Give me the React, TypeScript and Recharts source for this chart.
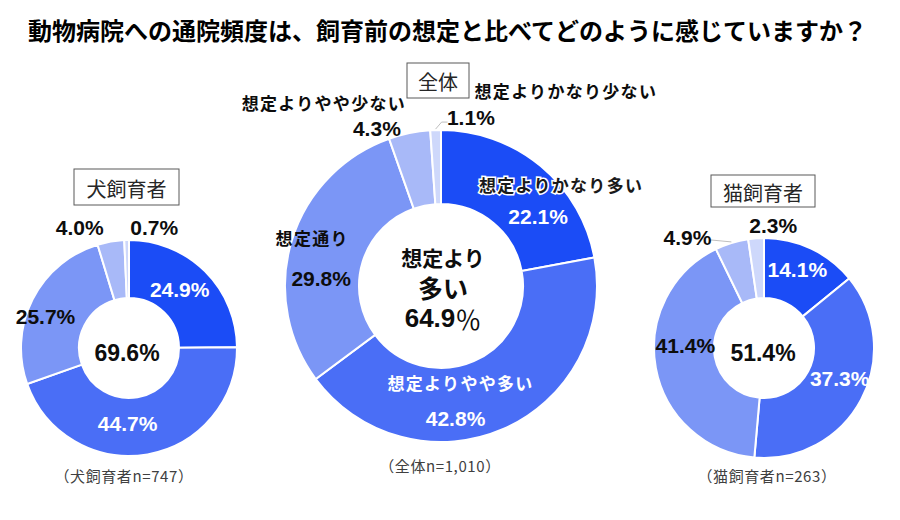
import { PieChart, Pie, Cell } from "recharts";

const categories = [
  "想定よりかなり多い",
  "想定よりやや多い",
  "想定通り",
  "想定よりやや少ない",
  "想定よりかなり少ない",
];
const dogValues = [24.9, 44.7, 25.7, 4.0, 0.7];
const allValues = [22.1, 42.8, 29.8, 4.3, 1.1];
const catValues = [14.1, 37.3, 41.4, 4.9, 2.3];
const centerValues = ["69.6", "64.9", "51.4"];
const groupNames = ["犬飼育者", "全体", "猫飼育者"];
const sampleNotes = ["（犬飼育者n=747）", "（全体n=1,010）", "（猫飼育者n=263）"];

const COLORS = ["#1b4cf6", "#4a6ef6", "#7b96f6", "#a8b9f8", "#ced8fb"];
const TITLE = "動物病院への通院頻度は、飼育前の想定と比べてどのように感じていますか？";

const NUM_FONT = "'Liberation Sans', Arial, sans-serif";
const JP_FONT = "'Noto Sans CJK JP', 'Noto Sans', sans-serif";
const DARK = "#0d0d0d";

const toData = (values: number[]) =>
  values.map((v, i) => ({ name: categories[i], value: v }));

type Layout = {
  nudges: number[][];
  valueColors: string[];
  catNudges?: (number[] | null)[];
  catColors?: string[];
  leaders?: Record<number, number[][]>;
};

const dogLayout: Layout = {
  nudges: [[-5, -2], [-15, -2], [-13, 4], [-36, -43], [27, -42]],
  valueColors: ["#fff", "#fff", DARK, DARK, DARK],
};
const allLayout: Layout = {
  nudges: [[21, 22], [-33, 23], [-6, 27], [-40, -41], [34, -50]],
  valueColors: ["#fff", "#fff", DARK, DARK, DARK],
  catNudges: [[44, -10], [-28, -13], [-15, -14], [-93, -67], [129, -77]],
  catColors: ["halo", "#fff", DARK, DARK, DARK],
  leaders: { 4: [[6, -7], [12, -7]] },
};
const catLayout: Layout = {
  nudges: [[-1, -6], [5, -7], [0, -17], [-53, -34], [15, -43]],
  valueColors: ["#fff", "#fff", DARK, DARK, DARK],
  leaders: { 3: [[-21, -2]] },
};

const RAD = Math.PI / 180;

const makeLabel = (layout: Layout) => (props: any) => {
  const { cx, cy, midAngle, innerRadius, outerRadius, index, value } = props;
  const r = (innerRadius + outerRadius) / 2;
  const bx = cx + r * Math.cos(-midAngle * RAD);
  const by = cy + r * Math.sin(-midAngle * RAD);
  const [dx, dy] = layout.nudges[index];
  const cat = layout.catNudges ? layout.catNudges[index] : null;
  const catColor = layout.catColors ? layout.catColors[index] : DARK;
  const leader = layout.leaders ? layout.leaders[index] : undefined;
  let leaderPath = "";
  if (leader) {
    const sx = cx + (outerRadius + 1) * Math.cos(-midAngle * RAD);
    const sy = cy + (outerRadius + 1) * Math.sin(-midAngle * RAD);
    leaderPath = `M${sx},${sy}` + leader.map((p) => ` L${sx + p[0]},${sy + p[1]}`).join("");
  }
  return (
    <g key={`lbl-${index}`}>
      {leader && <path d={leaderPath} stroke="#bfbfbf" strokeWidth={1} fill="none" />}
      {cat && (
        <text
          x={bx + cat[0]}
          y={by + cat[1]}
          textAnchor="middle"
          dominantBaseline="central"
          fontFamily={JP_FONT}
          fontWeight={700}
          fontSize={17}
          letterSpacing={1.3}
          fill={catColor === "halo" ? "#1a1a1a" : catColor}
          stroke={catColor === "halo" ? "#ffffff" : "none"}
          strokeWidth={catColor === "halo" ? 3 : 0}
          paintOrder="stroke"
        >
          {categories[index]}
        </text>
      )}
      <text
        x={bx + dx}
        y={by + dy}
        textAnchor="middle"
        dominantBaseline="central"
        fontFamily={NUM_FONT}
        fontWeight={700}
        fontSize={21}
        fill={layout.valueColors[index]}
      >
        {value.toFixed(1)}%
      </text>
    </g>
  );
};

const NameBox = ({ x, y, w, h, text }: { x: number; y: number; w: number; h: number; text: string }) => (
  <g>
    <rect x={x} y={y} width={w} height={h} fill="#fff" stroke="#595959" strokeWidth={1} />
    <text
      x={x + w / 2}
      y={y + h / 2 + 1}
      textAnchor="middle"
      dominantBaseline="central"
      fontFamily={JP_FONT}
      fontSize={20}
      fill="#262626"
    >
      {text}
    </text>
  </g>
);

const noteStyle = {
  fontFamily: JP_FONT,
  fontSize: 15,
  letterSpacing: 0.6,
  fill: "#404040",
};

export default function App() {
  return (
    <div style={{ position: "absolute", left: 0, top: 0, width: 900, height: 520, background: "#fff" }}>
      <PieChart width={900} height={520} margin={{ top: 0, right: 0, bottom: 0, left: 0 }}>
        <Pie
          data={toData(dogValues)}
          dataKey="value"
          cx={129}
          cy={348}
          innerRadius={50}
          outerRadius={108}
          startAngle={90}
          endAngle={-270}
          stroke="#fff"
          strokeWidth={2}
          label={makeLabel(dogLayout)}
          labelLine={false}
          isAnimationActive={false}
        >
          {dogValues.map((_, i) => (
            <Cell key={`d-${i}`} fill={COLORS[i]} />
          ))}
        </Pie>
        <Pie
          data={toData(allValues)}
          dataKey="value"
          cx={441}
          cy={286}
          innerRadius={82}
          outerRadius={156}
          startAngle={90}
          endAngle={-270}
          stroke="#fff"
          strokeWidth={2}
          label={makeLabel(allLayout)}
          labelLine={false}
          isAnimationActive={false}
        >
          {allValues.map((_, i) => (
            <Cell key={`a-${i}`} fill={COLORS[i]} />
          ))}
        </Pie>
        <Pie
          data={toData(catValues)}
          dataKey="value"
          cx={764}
          cy={348}
          innerRadius={50}
          outerRadius={110}
          startAngle={90}
          endAngle={-270}
          stroke="#fff"
          strokeWidth={2}
          label={makeLabel(catLayout)}
          labelLine={false}
          isAnimationActive={false}
        >
          {catValues.map((_, i) => (
            <Cell key={`c-${i}`} fill={COLORS[i]} />
          ))}
        </Pie>
      </PieChart>
      <svg
        width={900}
        height={520}
        style={{ position: "absolute", left: 0, top: 0, pointerEvents: "none" }}
      >
        <text x={28} y={29} dominantBaseline="central" fontFamily={JP_FONT} fontWeight={700} fontSize={24} fill="#000">
          {TITLE}
        </text>

        <NameBox x={74} y={169} w={105} h={36} text={groupNames[0]} />
        <NameBox x={407} y={63} w={62} h={35} text={groupNames[1]} />
        <NameBox x={711} y={175} w={104} h={32} text={groupNames[2]} />

        <text x={127} y={353} textAnchor="middle" dominantBaseline="central" fontFamily={NUM_FONT} fontWeight={700} fontSize={23} fill={DARK}>
          {centerValues[0]}%
        </text>
        <text x={763} y={353} textAnchor="middle" dominantBaseline="central" fontFamily={NUM_FONT} fontWeight={700} fontSize={23} fill={DARK}>
          {centerValues[2]}%
        </text>

        <text x={443} y={257} textAnchor="middle" dominantBaseline="central" fontFamily={JP_FONT} fontWeight={700} fontSize={21} fill={DARK}>
          想定より
        </text>
        <text x={443} y={287} textAnchor="middle" dominantBaseline="central" fontFamily={JP_FONT} fontWeight={700} fontSize={25} fill={DARK}>
          多い
        </text>
        <text x={443} y={318} textAnchor="middle" dominantBaseline="central" fill={DARK}>
          <tspan fontFamily={NUM_FONT} fontWeight={700} fontSize={26}>{centerValues[1]}</tspan>
          <tspan fontFamily={JP_FONT} fontWeight={400} fontSize={26}>％</tspan>
        </text>

        <text x={124} y={475} textAnchor="middle" dominantBaseline="central" {...noteStyle}>
          {sampleNotes[0]}
        </text>
        <text x={440} y={465} textAnchor="middle" dominantBaseline="central" {...noteStyle}>
          {sampleNotes[1]}
        </text>
        <text x={767} y={475} textAnchor="middle" dominantBaseline="central" {...noteStyle}>
          {sampleNotes[2]}
        </text>
      </svg>
    </div>
  );
}
